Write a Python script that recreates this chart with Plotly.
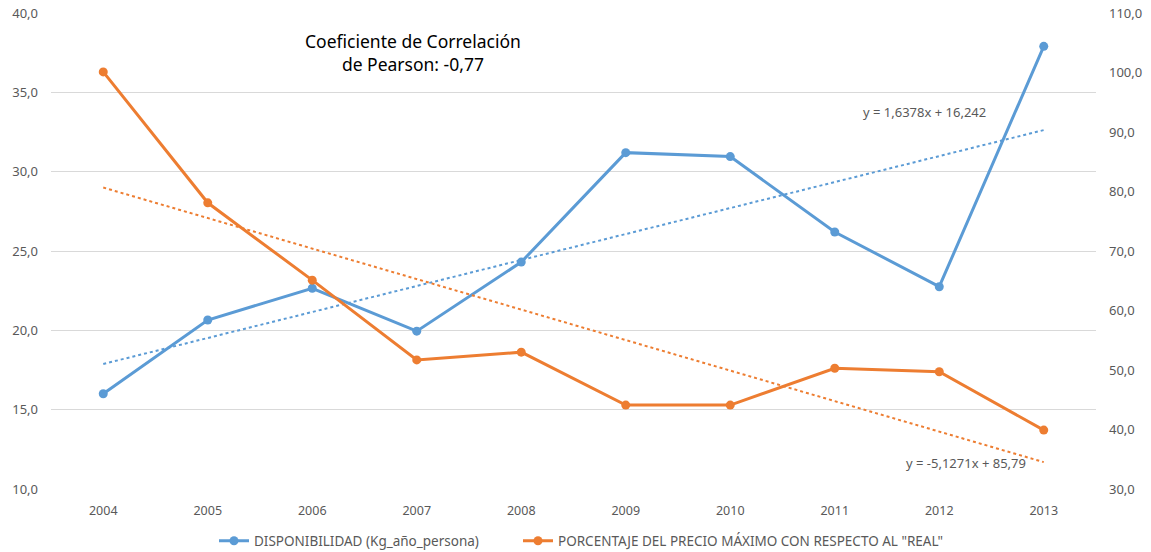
import plotly.graph_objects as go

years = ["2004", "2005", "2006", "2007", "2008", "2009", "2010", "2011", "2012", "2013"]
disponibilidad = [16.0, 20.65, 22.65, 19.95, 24.3, 31.2, 30.95, 26.2, 22.75, 37.9]
porcentaje = [100.1, 78.1, 65.1, 51.7, 53.0, 44.1, 44.1, 50.3, 49.7, 39.9]

# Trendline coefficients as printed on the chart
blue_slope, blue_intercept = 1.6378, 16.242
orange_slope, orange_intercept = -5.1271, 85.79

blue_name = "DISPONIBILIDAD (Kg_año_persona)"
orange_name = 'PORCENTAJE DEL PRECIO MÁXIMO CON RESPECTO AL "REAL"'

BLUE = "#5b9bd5"
ORANGE = "#ed7d31"
FONT = "Noto Sans"
GREY = "#595959"

L, R, T, B = 51, 1096, 13, 489
W, H = 1151, 552

idx = list(range(1, len(years) + 1))
blue_trend = [blue_slope * i + blue_intercept for i in idx]
orange_trend = [orange_slope * i + orange_intercept for i in idx]

fig = go.Figure()
fig.add_trace(go.Scatter(x=years, y=blue_trend, mode="lines", showlegend=False,
                         line=dict(color=BLUE, width=2, dash="dot"), hoverinfo="skip"))
fig.add_trace(go.Scatter(x=years, y=orange_trend, mode="lines", showlegend=False, yaxis="y2",
                         line=dict(color=ORANGE, width=2, dash="dot"), hoverinfo="skip"))
fig.add_trace(go.Scatter(x=years, y=disponibilidad, mode="lines+markers", name=blue_name,
                         legend="legend",
                         line=dict(color=BLUE, width=3), marker=dict(size=9, color=BLUE)))
fig.add_trace(go.Scatter(x=years, y=porcentaje, mode="lines+markers", name=orange_name, yaxis="y2",
                         legend="legend2",
                         line=dict(color=ORANGE, width=3), marker=dict(size=9, color=ORANGE)))

legend_y = (B - 541) / (B - T)
fig.update_layout(
    width=W, height=H,
    paper_bgcolor="white", plot_bgcolor="white",
    margin=dict(l=L, r=W - R, t=T, b=H - B, autoexpand=False),
    font=dict(family=FONT, size=12, color=GREY),
    separators=",.",
    xaxis=dict(type="category", range=[-0.5, 9.5], showgrid=False, showline=False, automargin=False,
               ticks="", ticklabelstandoff=12, tickfont=dict(size=12.5, color=GREY)),
    yaxis=dict(range=[10, 40], dtick=5, tickformat=".1f", showgrid=True, gridcolor="#d9d9d9",
               gridwidth=1, zeroline=False, showline=False, ticks="", automargin=False,
               ticklabelstandoff=12, tickfont=dict(size=13, color=GREY)),
    yaxis2=dict(range=[30, 110], dtick=10, tickformat=".1f", overlaying="y", side="right",
                showgrid=False, zeroline=False, showline=False, ticks="", automargin=False,
                ticklabelstandoff=12, tickfont=dict(size=13, color=GREY)),
    legend=dict(orientation="h", x=(214 - L) / (R - L), xanchor="left",
                y=legend_y, yanchor="middle", font=dict(size=13.5, color=GREY)),
    legend2=dict(orientation="h", x=(518 - L) / (R - L), xanchor="left",
                 y=legend_y, yanchor="middle", font=dict(size=13.5, color=GREY)),
    showlegend=True,
)

fig.add_annotation(text="Coeficiente de Correlación<br>de Pearson: -0,77", xref="paper", yref="paper",
                   x=(413 - L) / (R - L), y=1 - (52 - T) / (B - T), xanchor="center", yanchor="middle",
                   showarrow=False, font=dict(size=17.5, color="black", family=FONT))
fig.add_annotation(text="y = 1,6378x + 16,242", xref="paper", yref="paper",
                   x=(925 - L) / (R - L), y=1 - (112 - T) / (B - T), xanchor="center", yanchor="middle",
                   showarrow=False, font=dict(size=13, color=GREY, family=FONT))
fig.add_annotation(text="y = -5,1271x + 85,79", xref="paper", yref="paper",
                   x=(966 - L) / (R - L), y=1 - (463 - T) / (B - T), xanchor="center", yanchor="middle",
                   showarrow=False, font=dict(size=13, color=GREY, family=FONT))

fig.write_html("out.html", config={"displayModeBar": False},
               post_script="document.body.style.margin='0';document.body.style.overflow='hidden';")
